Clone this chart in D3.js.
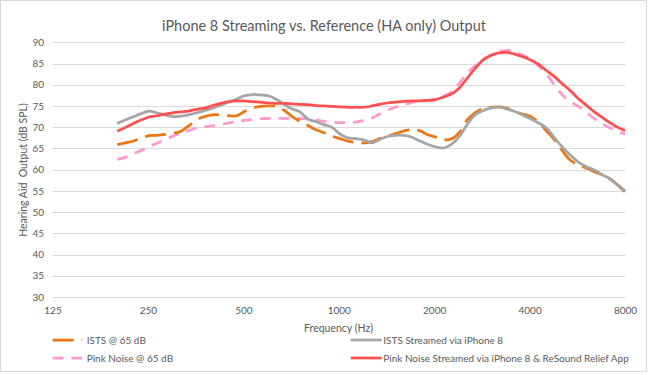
<!DOCTYPE html>
<html><head><meta charset="utf-8">
<script src="https://cdn.jsdelivr.net/npm/d3@7"></script>
<style>body{margin:0;background:#fff;overflow:hidden}text{font-family:Lato,"Open Sans",sans-serif;fill:#595959}</style>
</head><body><svg id="c" width="649" height="375"></svg>
<script>
const freqs = [200,212,224,238,252,267,283,300,317,336,356,377,400,424,449,476,504,534,566,599,635,673,713,755,800,848,898,951,1008,1068,1131,1199,1270,1345,1425,1510,1600,1695,1796,1903,2016,2136,2263,2397,2540,2691,2851,3020,3200,3390,3592,3805,4032,4271,4525,4795,5080,5382,5702,6041,6400,6781,7184,7611,8000];
const istsRef = [65.9,66.3,66.7,67.4,68.0,68.1,68.3,68.6,69.0,70.3,71.7,72.5,72.9,72.9,72.7,72.7,73.7,74.5,74.9,75.0,74.9,74.0,72.5,71.4,70.4,69.4,68.7,67.9,67.3,66.7,66.4,66.3,66.6,67.3,67.9,68.5,69.1,69.5,69.2,68.3,67.7,67.1,67.2,68.7,71.7,73.4,74.4,74.7,74.8,74.5,73.6,73.1,72.5,71.1,69.1,67.0,64.4,62.2,61.1,60.4,59.5,58.8,57.8,56.3,54.8];
const istsStream = [70.9,71.7,72.4,73.2,73.8,73.4,72.9,72.5,72.6,72.9,73.4,73.9,74.5,75.2,75.9,76.6,77.4,77.7,77.6,77.4,76.6,75.4,74.3,73.6,71.9,71.3,70.6,70.0,68.4,67.5,67.3,67.0,66.3,67.1,67.8,68.1,68.1,67.7,66.8,66.0,65.4,65.1,65.9,67.7,70.6,72.9,73.9,74.5,74.7,74.3,73.7,72.9,72.0,71.0,69.8,67.5,65.3,63.4,61.8,60.7,59.9,58.8,57.8,56.3,55.0];
const pinkRef = [62.4,62.9,63.7,64.5,65.5,66.2,67.1,67.9,68.6,69.2,69.8,70.1,70.3,70.6,71.0,71.3,71.6,71.8,72.0,72.1,72.1,72.1,72.1,72.1,71.9,71.7,71.4,71.2,71.1,71.1,71.2,71.6,72.1,73.1,74.0,74.7,75.3,75.8,76.2,76.3,76.6,77.2,78.3,80.3,82.8,84.4,85.9,87.0,87.8,88.1,87.8,87.0,86.1,84.4,82.5,79.9,77.6,76.0,74.9,73.6,72.0,70.8,69.8,69.0,68.4];
const pinkStream = [69.1,69.9,70.8,71.7,72.4,72.7,73.1,73.4,73.6,73.8,74.2,74.5,75.1,75.6,76.0,76.2,76.2,76.0,75.9,75.7,75.6,75.6,75.5,75.4,75.3,75.1,75.0,74.9,74.8,74.7,74.7,74.7,75.0,75.4,75.7,75.9,76.1,76.2,76.2,76.3,76.5,77.1,77.8,79.2,81.5,83.8,85.8,86.9,87.5,87.6,87.2,86.6,85.8,84.8,83.3,81.9,80.2,78.6,76.7,75.2,73.6,72.3,71.0,69.9,69.2];
const xTicks = [125,250,500,1000,2000,4000,8000];
const yTicks = [30,35,40,45,50,55,60,65,70,75,80,85,90];
const seriesNames = ["ISTS @ 65 dB","ISTS Streamed via iPhone 8","Pink Noise @ 65 dB","Pink Noise Streamed via iPhone 8 & ReSound Relief App"];
const titleText = "iPhone 8 Streaming vs. Reference (HA only) Output";
const xTitle = "Frequency (Hz)";
const yTitle = "Hearing Aid  Output (dB SPL)";

const svg = d3.select("#c");
svg.append("rect").attr("x",0.5).attr("y",0.5).attr("width",646).attr("height",371)
  .attr("fill","#fff").attr("stroke","#d9d9d9");

const x = d3.scaleLog().base(2).domain([125,8000]).range([52.5,625]);
const y = d3.scaleLinear().domain([30,90]).range([297,42.3]);

// grid
svg.append("g").selectAll("line").data(yTicks).join("line")
  .attr("x1",52.5).attr("x2",625.5).attr("y1",d=>Math.round(y(d))+0.5).attr("y2",d=>Math.round(y(d))+0.5)
  .attr("stroke","#d9d9d9").attr("stroke-width",1);

// y axis labels
const yAxis = d3.axisLeft(y).tickValues(yTicks).tickSize(0).tickPadding(8);
const gy = svg.append("g").attr("transform","translate(52.5,0)").call(yAxis);
gy.select(".domain").remove();
gy.selectAll("text").style("font-size","10px").attr("fill","#595959").attr("x",-8.5);

const xAxis = d3.axisBottom(x).tickValues(xTicks).tickFormat(d3.format("d")).tickSize(0).tickPadding(0);
const gx = svg.append("g").attr("transform","translate(0,297)").call(xAxis);
gx.select(".domain").remove();
gx.selectAll("text").style("font-size","10px").attr("fill","#595959").attr("dy",null).attr("y",13).attr("dominant-baseline","central");

svg.append("text").attr("x",324).attr("y",25).attr("text-anchor","middle").attr("dominant-baseline","central")
  .style("font-size","14.5px").text(titleText);
svg.append("text").attr("x",338.5).attr("y",327.5).attr("text-anchor","middle").attr("dominant-baseline","central")
  .style("font-size","10.5px").text(xTitle);
svg.append("text").attr("transform","translate(22.5,170) rotate(-90)").attr("text-anchor","middle").attr("dominant-baseline","central")
  .style("font-size","10.5px").style("white-space","pre").attr("xml:space","preserve").text(yTitle);

const series = [
  {name:seriesNames[0], vals:istsRef, color:"#EC7514", dash:"21,8"},
  {name:seriesNames[1], vals:istsStream, color:"#A5A5A5", dash:null},
  {name:seriesNames[2], vals:pinkRef, color:"#FF99CC", dash:"10.7,8"},
  {name:seriesNames[3], vals:pinkStream, color:"#FF4F4F", dash:null}
];
const line = d3.line().x((d,i)=>x(freqs[i])).y(d=>y(d)).curve(d3.curveCatmullRom.alpha(0.5));
const drawOrder = [2,0,1,3];
svg.append("g").selectAll("path").data(drawOrder.map(i=>series[i])).join("path")
  .attr("d",d=>line(d.vals)).attr("fill","none").attr("stroke",d=>d.color)
  .attr("stroke-width",2.75).attr("stroke-dasharray",d=>d.dash).attr("stroke-linejoin","round");

// legend
const legPos = [[52.7,340],[350.7,340],[52.7,358],[350.7,358]];
const lg = svg.append("g").selectAll("g").data(series).join("g")
  .attr("transform",(d,i)=>`translate(${legPos[i][0]},${legPos[i][1]})`);
lg.append("line").attr("x1",0).attr("x2",d=>d.dash?29.5:31).attr("y1",0).attr("y2",0)
  .attr("stroke",d=>d.color).attr("stroke-width",2.75).attr("stroke-dasharray",d=>d.dash);
lg.append("text").attr("x",(d,i)=>i%2===0?34:32.6).attr("y",0).attr("dominant-baseline","central")
  .style("font-size","10px").text(d=>d.name);
</script></body></html>
